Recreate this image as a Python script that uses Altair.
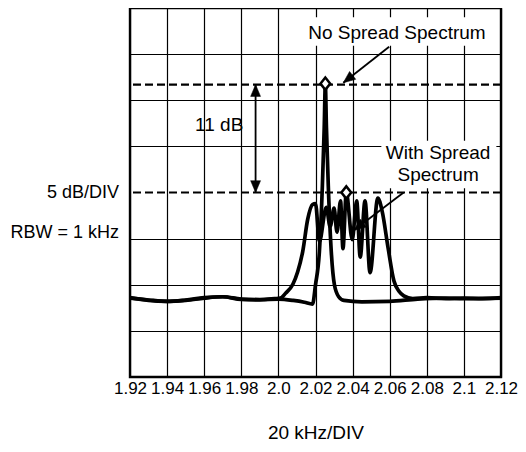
import math
import altair as alt
import pandas as pd

FONT = "Liberation Sans"

# ---- axis ticks / labels ----
x_ticks = [1.92, 1.94, 1.96, 1.98, 2.00, 2.02, 2.04, 2.06, 2.08, 2.10, 2.12]
x_tick_labels = ["1.92", "1.94", "1.96", "1.98", "2.0", "2.02", "2.04", "2.06", "2.08", "2.1", "2.12"]
y_grid = [5, 10, 15, 25, 30, 35]

# ---- spectrum without spread spectrum (freq in MHz, level in dB on a 0..40 dB screen) ----
no_spread_freq = [1.920, 1.930, 1.940, 1.950, 1.960, 1.970, 1.980, 1.990, 2.000, 2.008, 2.014,
                  2.0184, 2.0200, 2.0221, 2.0237, 2.0247, 2.0253, 2.0259, 2.0269, 2.0285,
                  2.0302, 2.0325, 2.0353, 2.045, 2.060, 2.075, 2.090, 2.100, 2.120]
no_spread_db = [8.6, 8.3, 8.2, 8.35, 8.6, 8.7, 8.4, 8.35, 8.45, 8.3, 8.1,
                7.9, 10.0, 13.6, 20.7, 27.0, 31.7, 27.0, 20.7, 13.6,
                10.0, 8.7, 8.3, 8.15, 8.2, 8.45, 8.55, 8.5, 8.55]

# ---- spectrum with spread spectrum ----
spread_freq = [1.920, 1.930, 1.940, 1.950, 1.960, 1.970, 1.980, 1.990, 1.998, 2.001, 2.004,
               2.0078, 2.0104, 2.0131, 2.0158, 2.0184, 2.0200, 2.0221, 2.0258, 2.0279,
               2.0300, 2.0316, 2.0335, 2.0348, 2.0366, 2.0398, 2.0422, 2.0441, 2.0467,
               2.0494, 2.0536, 2.0560, 2.0592, 2.0623, 2.0650, 2.0676, 2.0724, 2.080,
               2.090, 2.100, 2.110, 2.120]
spread_db = [8.55, 8.35, 8.2, 8.3, 8.55, 8.7, 8.45, 8.4, 8.5, 8.55, 9.1,
             10.05, 11.4, 13.6, 17.1, 18.7, 18.8, 14.7, 18.4, 16.3,
             18.3, 15.7, 19.1, 13.9, 20.0, 14.9, 19.1, 13.0, 19.1,
             11.3, 19.4, 17.9, 13.9, 10.4, 9.3, 8.8, 8.5, 8.6,
             8.5, 8.55, 8.5, 8.6]

peak_no_spread = 31.7
peak_spread = 20.0
peak_no_spread_freq = 2.0253
peak_spread_freq = 2.0366

W, H = 371, 369
X_DOM = [1.92, 2.12]
Y_DOM = [0, 40]
px_per_f = W / (X_DOM[1] - X_DOM[0])
px_per_db = H / (Y_DOM[1] - Y_DOM[0])

def angle_of(f0, v0, f1, v1):
    dx = (f1 - f0) * px_per_f
    dy = -(v1 - v0) * px_per_db
    return (math.degrees(math.atan2(dx, -dy)) + 360) % 360

# label expression built from the tick arrays
expr = "'" + x_tick_labels[-1] + "'"
for v, l in reversed(list(zip(x_ticks[:-1], x_tick_labels[:-1]))):
    expr = f"abs(datum.value - {v}) < 0.001 ? '{l}' : ({expr})"

xscale = alt.Scale(domain=X_DOM, nice=False, zero=False)
yscale = alt.Scale(domain=Y_DOM, nice=False, zero=False)

x_axis = alt.Axis(values=x_ticks, labelExpr=expr, grid=True, gridColor="black", gridWidth=1.2,
                  gridOpacity=1, ticks=False, domain=False, labelFont=FONT, labelFontSize=17,
                  labelColor="black", labelPadding=3, labelFlush=False, labelOverlap=False,
                  labelBound=False,
                  title="20 kHz/DIV", titleFont=FONT, titleFontSize=19, titleFontWeight="normal",
                  titleColor="black", titlePadding=27)
y_axis = alt.Axis(values=y_grid, grid=True, gridColor="black", gridWidth=1.2, gridOpacity=1,
                  labels=False, ticks=False, domain=False, title=None)

def X(field="f"):
    return alt.X(f"{field}:Q", scale=xscale, axis=x_axis)

def Y(field="v"):
    return alt.Y(f"{field}:Q", scale=yscale, axis=y_axis)

no_df = pd.DataFrame({"f": no_spread_freq, "v": no_spread_db})
sp_df = pd.DataFrame({"f": spread_freq, "v": spread_db})

# white boxes behind the annotations
boxes = pd.DataFrame({
    "f": [2.0150, 2.0555], "f2": [2.1140, 2.1175],
    "v": [35.9, 20.45], "v2": [39.0, 25.6]})
box_layer = alt.Chart(boxes).mark_rect(fill="white").encode(
    x=X(), x2="f2:Q", y=Y(), y2="v2:Q")

# dashed reference levels
levels = pd.DataFrame({"v": [peak_no_spread, peak_spread]})
dash_layer = alt.Chart(levels).mark_rule(color="black", strokeWidth=2.2, strokeDash=[8, 4]).encode(y=Y())

# curves
spread_line = alt.Chart(sp_df).mark_line(color="black", strokeWidth=3.7, interpolate="monotone").encode(
    x=X(), y=Y(), order="f:Q")
no_line = alt.Chart(no_df).mark_line(color="black", strokeWidth=3.7, interpolate="monotone").encode(
    x=X(), y=Y(), order="f:Q")

# peak markers
peaks = pd.DataFrame({"f": [peak_no_spread_freq, peak_spread_freq], "v": [peak_no_spread + 0.1, peak_spread]})
diamond = "M0,-1L0.8,0L0,1L-0.8,0Z"
peak_layer = alt.Chart(peaks).mark_point(shape=diamond, size=150, filled=True, fill="white",
                                         stroke="black", strokeWidth=2.5, opacity=1).encode(x=X(), y=Y())

# arrows
arrow_f = 1.9877
arrows = pd.DataFrame({
    "f": [2.0597, 2.0675, arrow_f],
    "v": [35.8, 20.0, peak_no_spread],
    "f2": [2.0350, 2.0407, arrow_f],
    "v2": [31.9, 15.9, peak_spread]})
arrow_lines = alt.Chart(arrows).mark_rule(color="black", strokeWidth=1.8).encode(
    x=X(), y=Y(), x2="f2:Q", y2="v2:Q")

head = "M0,0L0.42,1L-0.42,1Z"
heads_spec = [
    (2.0350, 31.9, angle_of(2.0597, 35.8, 2.0350, 31.9)),
    (2.0407, 15.9, angle_of(2.0675, 20.0, 2.0407, 15.9)),
    (arrow_f, peak_no_spread, 0.0),
    (arrow_f, peak_spread, 180.0),
]
head_layers = [
    alt.Chart(pd.DataFrame({"f": [hf], "v": [hv]})).mark_point(
        shape=head, size=560, filled=True, fill="black", stroke="black", strokeWidth=0.5,
        opacity=1, angle=ang).encode(x=X(), y=Y())
    for hf, hv, ang in heads_spec
]

# text annotations inside the plot
texts = pd.DataFrame({
    "f": [2.0639, 1.9681, 2.0861, 2.0861],
    "v": [37.3, 27.3, 24.3, 21.9],
    "t": ["No Spread Spectrum", "11 dB", "With Spread", "Spectrum"]})
text_layer = alt.Chart(texts).mark_text(font=FONT, fontSize=19, color="black",
                                        align="center", baseline="middle").encode(
    x=X(), y=Y(), text="t:N")

# labels left of the plot
side = pd.DataFrame({"f": [X_DOM[0], X_DOM[0]], "v": [20.0, 15.6], "t": ["5 dB/DIV", "RBW = 1 kHz"]})
side_layer = alt.Chart(side).mark_text(font=FONT, fontSize=18, color="black", align="right",
                                       baseline="middle", dx=-11).encode(
    x=X(), y=Y(), text="t:N")

chart = alt.layer(
    box_layer, dash_layer, spread_line, no_line, arrow_lines, *head_layers,
    peak_layer, text_layer, side_layer
).properties(
    width=W, height=H,
    background="white",
    autosize=alt.AutoSizeParams(type="none"),
    padding={"left": 122, "top": 0, "right": 17, "bottom": 67},
).configure_view(stroke="black", strokeWidth=2.4)

chart.save("out.html", embed_options={"renderer": "svg", "actions": False})
